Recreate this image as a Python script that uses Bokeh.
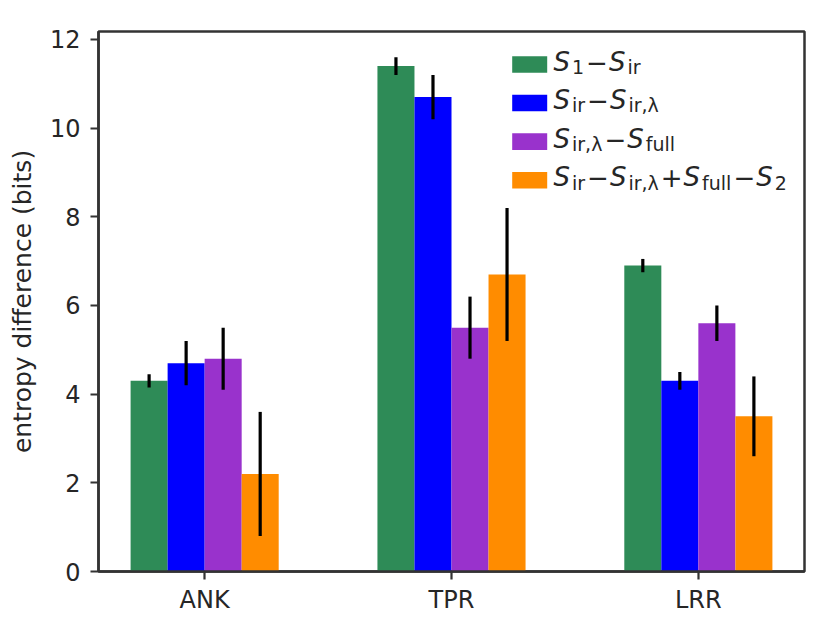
from bokeh.plotting import figure
from bokeh.models import ColumnDataSource, Range1d, FixedTicker, Label, BoxAnnotation
from bokeh.transform import dodge
from bokeh.embed import file_html
from bokeh.resources import INLINE

# ---- data ----
categories = ["ANK", "TPR", "LRR"]
s1_minus_sir = [4.3, 11.4, 6.9]
s1_minus_sir_err = [0.15, 0.2, 0.15]
sir_minus_sirl = [4.7, 10.7, 4.3]
sir_minus_sirl_err = [0.5, 0.5, 0.2]
sirl_minus_full = [4.8, 5.5, 5.6]
sirl_minus_full_err = [0.7, 0.7, 0.4]
combo = [2.2, 6.7, 3.5]
combo_err = [1.4, 1.5, 0.9]
y_ticks = [0, 2, 4, 6, 8, 10, 12]

series = [
    (s1_minus_sir, s1_minus_sir_err, "#2E8B57"),
    (sir_minus_sirl, sir_minus_sirl_err, "#0000FF"),
    (sirl_minus_full, sirl_minus_full_err, "#9932CC"),
    (combo, combo_err, "#FF8C00"),
]
offsets = [-0.225, -0.075, 0.075, 0.225]
bar_w = 0.15

TXT = "#262626"
AX = "#333333"
FONT = "DejaVu Sans"

FR_L, FR_R, FR_T, FR_B = 98.0, 804.0, 31.0, 572.0
WIDTH, HEIGHT = 822, 616
X0, X1, Y0, Y1 = -0.43, 2.43, 0.0, 12.18

p = figure(width=WIDTH, height=HEIGHT, output_backend="svg", toolbar_location=None,
           x_range=Range1d(X0, X1), y_range=Range1d(Y0, Y1))
p.min_border_left = int(FR_L)
p.min_border_right = int(WIDTH - FR_R)
p.min_border_top = int(FR_T)
p.min_border_bottom = int(HEIGHT - FR_B)
p.xgrid.grid_line_color = None
p.ygrid.grid_line_color = None
p.outline_line_color = AX
p.outline_line_width = 2.5
p.background_fill_color = "white"
p.border_fill_color = "white"

idx = list(range(len(categories)))
for (vals, errs, col), off in zip(series, offsets):
    src = ColumnDataSource(dict(
        idx=idx, top=vals,
        lo=[v - e for v, e in zip(vals, errs)],
        hi=[v + e for v, e in zip(vals, errs)],
    ))
    p.vbar(x=dodge("idx", off), top="top", bottom=0, width=bar_w, source=src,
           fill_color=col, line_color=None)
    p.segment(x0=dodge("idx", off), x1=dodge("idx", off), y0="lo", y1="hi",
              source=src, line_color="black", line_width=3.2)

for ax in (p.xaxis[0], p.yaxis[0]):
    ax.axis_line_color = AX
    ax.axis_line_width = 2.5
    ax.major_tick_line_color = AX
    ax.major_tick_line_width = 2.2
    ax.major_tick_out = 8
    ax.major_tick_in = 0
    ax.minor_tick_line_color = None
    ax.major_label_text_font = FONT
    ax.major_label_text_font_size = "24px"
    ax.major_label_text_color = TXT

p.xaxis.ticker = FixedTicker(ticks=idx)
p.xaxis.major_label_overrides = {i: c for i, c in zip(idx, categories)}
p.xaxis.major_label_standoff = 6
p.yaxis.ticker = FixedTicker(ticks=y_ticks)
p.yaxis.major_label_standoff = 10
p.yaxis.axis_label = "entropy difference (bits)"
p.yaxis.axis_label_text_font = FONT
p.yaxis.axis_label_text_font_size = "25px"
p.yaxis.axis_label_text_font_style = "normal"
p.yaxis.axis_label_text_color = TXT
p.yaxis.axis_label_standoff = 10

# ---- legend (hand-built to allow sub-scripted labels) ----
def dxp(px):
    return X0 + (px - FR_L) / (FR_R - FR_L) * (X1 - X0)
def dyp(py):
    return Y0 + (FR_B - py) / (FR_B - FR_T) * (Y1 - Y0)

W = {"S": 0.635, "1": 0.636, "2": 0.636, "i": 0.278, "r": 0.411, "f": 0.352,
     "u": 0.634, "l": 0.278, ",": 0.318, " ": 0.2, "λ": 0.592, "−": 0.838, "+": 0.838}
MAIN, SUB = 26, 19
ITAL = 2.0
BASE_SHIFT = 0.38   # measured: rendered baseline sits this many em below the anchor

rows = [
    [("S", "m"), ("1", "s"), ("−", "o"), ("S", "m"), ("ir", "s")],
    [("S", "m"), ("ir", "s"), ("−", "o"), ("S", "m"), ("ir,λ", "s")],
    [("S", "m"), ("ir,λ", "s"), ("−", "o"), ("S", "m"), ("full", "s")],
    [("S", "m"), ("ir", "s"), ("−", "o"), ("S", "m"), ("ir,λ", "s"), ("+", "o"),
     ("S", "m"), ("full", "s"), ("−", "o"), ("S", "m"), ("2", "s")],
]
row_centers = [64.0, 102.7, 141.3, 180.0]

for (vals, errs, col), segs, yc in zip(series, rows, row_centers):
    p.add_layout(BoxAnnotation(left=dxp(511.7), right=dxp(546.7),
                               top=dyp(yc - 8.3), bottom=dyp(yc + 8.3),
                               fill_color=col, fill_alpha=1.0, line_color=None,
                               level="annotation"))
    base = yc + 7.0
    x = 553.0
    prev = None
    for t, kind in segs:
        if kind == "m":
            size, yb, style = MAIN, base, "italic"
        elif kind == "s":
            size, yb, style = SUB, base + 2.5, "normal"
            if prev == "m":
                x += ITAL
        else:
            size, yb, style = MAIN, base, "normal"
            x += 2.0
        p.add_layout(Label(x=dxp(x), y=dyp(yb - BASE_SHIFT * size), text=t,
                           text_font=FONT, text_font_size=f"{size}px",
                           text_font_style=style, text_color=TXT,
                           text_baseline="alphabetic", text_align="left"))
        x += sum(W.get(ch, 0.5) for ch in t) * size
        if kind == "o":
            x += 1.0
        prev = kind

open("out.html", "w").write(file_html(p, INLINE))
